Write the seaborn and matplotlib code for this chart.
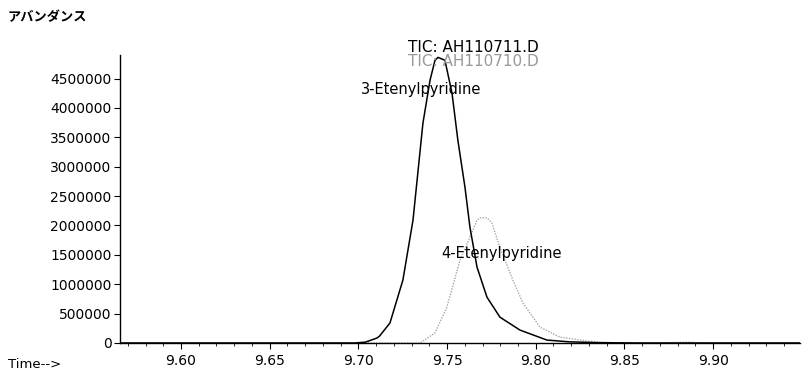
import matplotlib
matplotlib.use("Agg")
import matplotlib.pyplot as plt
import seaborn as sns
import pandas as pd
from matplotlib.ticker import MultipleLocator

# --- data ---
time_711 = [9.566, 9.650, 9.698, 9.704, 9.7105, 9.712, 9.7178, 9.7251, 9.7308, 9.7364,
            9.7404, 9.7432, 9.7449, 9.7488, 9.7528, 9.7561, 9.7601, 9.7629, 9.7669,
            9.7725, 9.7798, 9.7911, 9.8063, 9.819, 9.836, 9.860, 9.949]
abund_711 = [0, 0, 0, 15000, 85000, 120000, 340000, 1070000, 2090000, 3740000,
             4470000, 4810000, 4860000, 4810000, 4250000, 3450000, 2650000, 1970000, 1290000,
             780000, 440000, 220000, 50000, 20000, 5000, 0, 0]

time_710 = [9.566, 9.700, 9.7347, 9.7432, 9.7499, 9.7573, 9.7629, 9.7669, 9.7685, 9.7725,
            9.7753, 9.7798, 9.7871, 9.7928, 9.8024, 9.8136, 9.830, 9.847, 9.870, 9.885,
            9.895, 9.949]
abund_710 = [0, 0, 0, 170000, 612000, 1410000, 1800000, 2090000, 2130000, 2130000,
             2040000, 1630000, 1070000, 680000, 270000, 100000, 30000, 0, 0, 15000,
             0, 0]

x_ticks = [9.60, 9.65, 9.70, 9.75, 9.80, 9.85, 9.90]
y_ticks = [0, 500000, 1000000, 1500000, 2000000, 2500000, 3000000, 3500000, 4000000, 4500000]

peak_labels = ["3-Etenylpyridine", "4-Etenylpyridine"]
peak_label_pos = [(9.7015, 4.32e6), (9.747, 1.53e6)]
traces = ["TIC: AH110711.D", "TIC: AH110710.D"]

sns.set_theme(style="white")
plt.rcParams['font.family'] = ['DejaVu Sans', 'Noto Sans CJK JP']

df711 = pd.DataFrame({"time": time_711, "abund": abund_711})
df710 = pd.DataFrame({"time": time_710, "abund": abund_710})

fig = plt.figure(figsize=(8.02, 3.72), dpi=100)
ax = fig.add_axes([120/802, 1-343/372, (800-120)/802, (343-55)/372])

sns.lineplot(data=df710, x="time", y="abund", ax=ax, color="#a8a8a8",
             linestyle=(0, (1, 1)), linewidth=1.0, estimator=None, sort=False)
sns.lineplot(data=df711, x="time", y="abund", ax=ax, color="black",
             linewidth=1.1, estimator=None, sort=False)

ax.set_xlim(9.5656, 9.949)
ax.set_ylim(0, 4.9e6)
ax.set_xticks(x_ticks)
ax.set_xticklabels([f"{v:.2f}" for v in x_ticks])
ax.xaxis.set_minor_locator(MultipleLocator(0.01))
ax.set_yticks(y_ticks)
ax.set_yticklabels([str(v) for v in y_ticks])
ax.set_xlabel("")
ax.set_ylabel("")
for s in ["top", "right"]:
    ax.spines[s].set_visible(False)
for s in ["left", "bottom"]:
    ax.spines[s].set_color("black")
    ax.spines[s].set_linewidth(1.0)
ax.tick_params(axis="both", which="major", direction="out", length=4, width=0.8,
               color="black", labelsize=10, labelcolor="black", pad=2)
ax.tick_params(axis="both", which="minor", direction="out", length=2, width=0.6, color="black")
ax.tick_params(axis="x", which="major", pad=4)
ax.tick_params(axis="both", which="both", bottom=True, left=True)

for lab, (xx, yy) in zip(peak_labels, peak_label_pos):
    ax.text(xx, yy, lab, fontsize=10.5, color="black", ha="left", va="center")

fig.text(473/802, 1-48/372, traces[0], fontsize=11, color="black", ha="center", va="center")
fig.text(473/802, 1-62/372, traces[1], fontsize=11, color="#999999", ha="center", va="center")

fig.text(8/802, 1-17/372, "アバンダンス", fontsize=9.5, color="black", ha="left", va="center",
         family=['Noto Sans CJK JP', 'DejaVu Sans'], fontweight="bold")
fig.text(8/802, 1-364/372, "Time-->", fontsize=9.5, color="black", ha="left", va="center")

fig.savefig("out.png", dpi=100)
